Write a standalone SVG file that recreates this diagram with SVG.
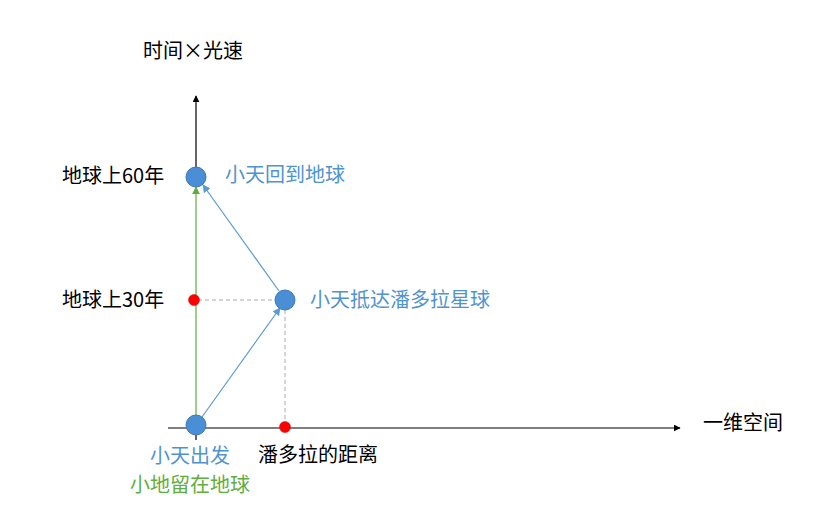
<svg xmlns="http://www.w3.org/2000/svg" width="838" height="528" viewBox="0 0 838 528">
<style>
text{font-family:"Microsoft YaHei","Noto Sans CJK SC","Liberation Sans",sans-serif;font-size:20px;}
.k{fill:#000}
.b{fill:#4f93cf}
.g{fill:#5fae3e}
.node{fill:#4a8fd6;stroke:#3f78b0;stroke-width:1}
.red{fill:#ff0000;stroke:#d00000;stroke-width:0.5}
.dash{stroke:#aaaaaa;stroke-width:1;stroke-dasharray:4 3;fill:none}
</style>
<defs>
<marker id="ak" viewBox="0 0 10 10" refX="9" refY="5" markerWidth="7" markerHeight="7" orient="auto" markerUnits="userSpaceOnUse"><path d="M0,0 L10,5 L0,10 z" fill="#000"/></marker>
<marker id="ab" viewBox="0 0 10 10" refX="9" refY="5" markerWidth="8" markerHeight="8" orient="auto" markerUnits="userSpaceOnUse"><path d="M0,0 L10,5 L0,10 z" fill="#5b9bd5"/></marker>
<marker id="ag" viewBox="0 0 10 10" refX="9" refY="5" markerWidth="8" markerHeight="8" orient="auto" markerUnits="userSpaceOnUse"><path d="M0,0 L10,5 L0,10 z" fill="#5fae3e"/></marker>
</defs>
<g id="connectors">
<line x1="196" y1="440" x2="196" y2="425" stroke="#000" stroke-width="1.2"/>
<line x1="196" y1="170" x2="196" y2="96" stroke="#000" stroke-width="1.2" marker-end="url(#ak)"/>
<line x1="168" y1="428" x2="680" y2="428" stroke="#000" stroke-width="1.2" marker-end="url(#ak)"/>
<line x1="196" y1="425" x2="196" y2="187" stroke="#5fae3e" stroke-width="1.2" marker-end="url(#ag)"/>
<line x1="202" y1="417" x2="280" y2="308" stroke="#5b9bd5" stroke-width="1.2" marker-end="url(#ab)"/>
<line x1="279" y1="291" x2="203" y2="185" stroke="#5b9bd5" stroke-width="1.2" marker-end="url(#ab)"/>
<line class="dash" x1="198" y1="300" x2="275" y2="300"/>
<line class="dash" x1="285" y1="310" x2="285" y2="422"/>
</g>
<g id="axis-labels">
<text class="k" x="143" y="58">时间×光速</text>
<text class="k" x="703" y="430">一维空间</text>
</g>
<g id="node-earth60">
<circle class="node" cx="196" cy="177" r="10"/>
<text class="k" x="62" y="183">地球上60年</text>
<text class="b" x="225" y="182">小天回到地球</text>
</g>
<g id="node-earth30">
<circle class="red" cx="194" cy="300" r="5.5"/>
<text class="k" x="62" y="307">地球上30年</text>
</g>
<g id="node-pandora">
<circle class="node" cx="285" cy="300" r="10"/>
<text class="b" x="310" y="307">小天抵达潘多拉星球</text>
</g>
<g id="node-start">
<circle class="node" cx="196" cy="425" r="10"/>
<text class="b" x="150" y="463">小天出发</text>
<text class="g" x="130" y="492">小地留在地球</text>
</g>
<g id="node-distance">
<circle class="red" cx="285" cy="427" r="5.5"/>
<text class="k" x="258" y="462">潘多拉的距离</text>
</g>
</svg>
